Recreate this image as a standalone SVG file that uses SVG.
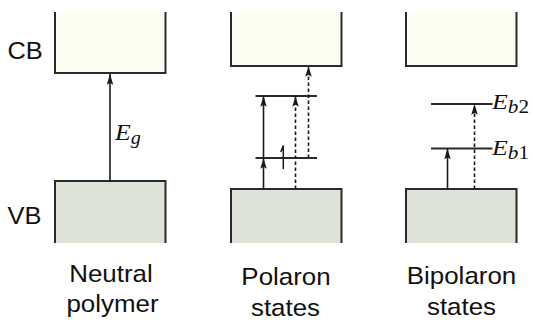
<svg xmlns="http://www.w3.org/2000/svg" width="533" height="322" viewBox="0 0 533 322">
<style>
.cb{fill:#fdfcf0;stroke:none}
.vb{fill:#dde3d6;stroke:none}
.edge{fill:none;stroke:#2a2a2a;stroke-width:2}
.lvl{stroke:#2a2a2a;stroke-width:2}
.arr{stroke:#1a1a1a;stroke-width:1.6;fill:none;marker-end:url(#ah)}
.dash{stroke-dasharray:3.5,2.5}
.lab{font-family:"Liberation Sans",Arial,sans-serif;font-size:24px;fill:#111}
.mth{font-family:"Liberation Serif","Times New Roman",serif;font-style:italic;fill:#111}
</style>
<defs>
<marker id="ah" viewBox="0 0 10 6" refX="10" refY="3" markerWidth="11" markerHeight="6.5" markerUnits="userSpaceOnUse" orient="auto">
<path d="M0,0 L10,3 L0,6 L2,3 z" fill="#1a1a1a"/>
</marker>
</defs>

<g id="neutral">
<g id="cb1"><rect class="cb" x="55" y="12" width="110.5" height="61"/><path class="edge" d="M55,12 V73 H165.5 V12"/></g>
<g id="vb1"><rect class="vb" x="55" y="181" width="110.5" height="62"/><path class="edge" d="M55,243 V181 H165.5 V243"/></g>
<text class="lab" transform="translate(7.5,58.5) scale(1.06,1)">CB</text>
<text class="lab" transform="translate(7.5,223.5) scale(1.06,1)">VB</text>
<text class="lab" text-anchor="middle" transform="translate(111,282) scale(1.08,1)">Neutral</text>
<text class="lab" text-anchor="middle" transform="translate(112.5,312) scale(1.08,1)">polymer</text>
<text class="mth" font-size="23" transform="translate(115,140) scale(1.12,1)">E<tspan font-size="18" dy="4">g</tspan></text>
</g>

<g id="polaron">
<g id="cb2"><rect class="cb" x="231" y="12" width="110.5" height="54"/><path class="edge" d="M231,12 V66 H341.5 V12"/></g>
<g id="vb2"><rect class="vb" x="231" y="189" width="110.5" height="54"/><path class="edge" d="M231,243 V189 H341.5 V243"/></g>
<line class="lvl" x1="255.5" y1="96" x2="317" y2="96"/>
<line class="lvl" x1="255.5" y1="158" x2="317" y2="158"/>
<text class="lab" text-anchor="middle" transform="translate(286,285) scale(1.08,1)">Polaron</text>
<text class="lab" text-anchor="middle" transform="translate(285.5,316) scale(1.08,1)">states</text>
</g>

<g id="bipolaron">
<g id="cb3"><rect class="cb" x="406" y="12" width="110.5" height="54"/><path class="edge" d="M406,12 V66 H516.5 V12"/></g>
<g id="vb3"><rect class="vb" x="406" y="189" width="110.5" height="54"/><path class="edge" d="M406,243 V189 H516.5 V243"/></g>
<line class="lvl" x1="431" y1="104" x2="492.5" y2="104"/>
<line class="lvl" x1="431" y1="148.5" x2="492.5" y2="148.5"/>
<text class="mth" font-size="22" transform="translate(492,108.5) scale(1.18,1)">E<tspan font-size="18" dy="4">b</tspan><tspan font-size="18" font-style="normal">2</tspan></text>
<text class="mth" font-size="22" transform="translate(492,155) scale(1.18,1)">E<tspan font-size="18" dy="4">b</tspan><tspan font-size="18" font-style="normal">1</tspan></text>
<text class="lab" text-anchor="middle" transform="translate(461.5,284) scale(1.08,1)">Bipolaron</text>
<text class="lab" text-anchor="middle" transform="translate(461.5,315) scale(1.08,1)">states</text>
</g>

<g id="connectors">
<line class="arr" x1="110" y1="181" x2="110" y2="74"/>
<line class="arr" x1="263.5" y1="189" x2="263.5" y2="158"/>
<line class="arr" x1="263.5" y1="158" x2="263.5" y2="96"/>
<line class="arr dash" x1="295.5" y1="189" x2="295.5" y2="96"/>
<line class="arr dash" x1="308.5" y1="158" x2="308.5" y2="66"/>
<path d="M283.3,169 V145.5 L280.8,152" fill="none" stroke="#1a1a1a" stroke-width="1.5"/>
<line class="arr" x1="447.5" y1="189" x2="447.5" y2="148.5"/>
<line class="arr dash" x1="474.5" y1="189" x2="474.5" y2="104"/>
</g>
</svg>
